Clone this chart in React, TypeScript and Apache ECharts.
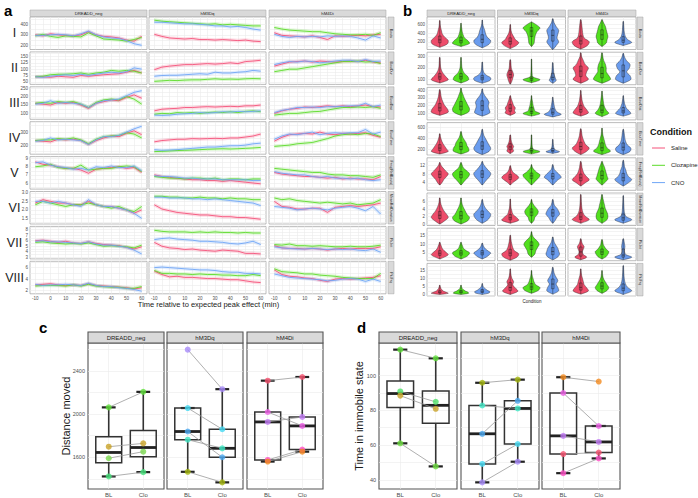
import React, { useEffect, useRef } from 'react';
import * as echarts from 'echarts';

const FONT = '"Liberation Sans", Arial, Helvetica, sans-serif';

// ---------------- shared categories ----------------
const GROUPS = ['DREADD_neg', 'hM3Dq', 'hM4Di'];
const CONDITIONS = ['Saline', 'Clozapine', 'CNO'];
const LINE_COLORS = ['#F5527A', '#5CDB2A', '#6FA6F7'];
const VIOLIN_FILLS = ['#EE4D6B', '#52E01F', '#6A9CEE'];
const ROMAN = ['I', 'II', 'III', 'IV', 'V', 'VI', 'VII', 'VIII'];
const MEASURES = ['Bouts', 'BoutDur', 'BoutDist', 'BoutTime', 'Freq(RefBouts)', 'MeanRefDuration', 'Pk.Int', 'Pk.Frq'];

// ---------------- panel a: time courses ----------------
const TIME = [-10, -5, 0, 5, 10, 15, 20, 25, 30, 35, 40, 45, 50, 55, 60];
const TIME_TICKS = [-10, 0, 10, 20, 30, 40, 50, 60];
// each row: [group][condition: Saline, Clozapine, CNO]
const TS_I = [
  [[300, 290, 310, 300, 295, 290, 300, 330, 300, 285, 280, 270, 250, 240, 285],
   [290, 305, 285, 275, 290, 285, 280, 320, 290, 260, 255, 250, 240, 255, 275],
   [295, 295, 300, 305, 300, 290, 310, 335, 300, 280, 270, 265, 245, 215, 200]],
  [[305, 285, 270, 265, 260, 265, 255, 255, 250, 255, 250, 245, 250, 240, 235],
   [440, 430, 425, 420, 415, 410, 405, 400, 405, 395, 400, 395, 390, 385, 385],
   [420, 420, 415, 410, 405, 405, 400, 395, 385, 385, 375, 380, 370, 355, 345]],
  [[320, 295, 290, 285, 280, 290, 275, 255, 290, 285, 290, 295, 290, 300, 305],
   [370, 355, 345, 340, 335, 330, 330, 320, 310, 305, 300, 300, 305, 295, 320],
   [305, 285, 275, 285, 280, 285, 280, 290, 285, 290, 285, 270, 250, 290, 270]],
];
const TS_II = [
  [[70, 70, 68, 72, 70, 68, 75, 72, 75, 78, 80, 82, 88, 95, 85],
   [70, 72, 78, 80, 80, 82, 85, 80, 85, 88, 95, 92, 95, 92, 85],
   [70, 68, 72, 75, 78, 75, 80, 75, 80, 85, 88, 85, 90, 105, 100]],
  [[98, 108, 112, 115, 118, 118, 120, 122, 120, 122, 125, 122, 130, 132, 135],
   [52, 54, 56, 55, 57, 58, 58, 60, 62, 60, 61, 60, 62, 63, 62],
   [72, 75, 76, 76, 78, 80, 82, 80, 88, 85, 85, 88, 90, 95, 92]],
  [[112, 120, 128, 130, 132, 128, 132, 130, 128, 130, 132, 130, 135, 128, 125],
   [90, 95, 100, 100, 105, 110, 115, 120, 125, 130, 130, 132, 128, 130, 122],
   [118, 125, 130, 128, 132, 130, 125, 128, 132, 135, 135, 130, 138, 130, 132]],
];
const TS_III = [
  [[160, 155, 150, 165, 160, 165, 150, 130, 160, 170, 180, 175, 195, 210, 190],
   [160, 165, 160, 170, 165, 170, 155, 135, 165, 180, 185, 180, 200, 185, 155],
   [155, 160, 175, 160, 165, 160, 155, 135, 160, 175, 180, 185, 205, 225, 235]],
  [[115, 125, 128, 130, 135, 135, 138, 140, 138, 140, 142, 140, 145, 145, 150],
   [95, 100, 98, 105, 102, 105, 100, 105, 108, 105, 110, 105, 112, 115, 110],
   [90, 88, 90, 95, 98, 100, 105, 102, 105, 110, 108, 112, 110, 112, 115]],
  [[100, 115, 125, 130, 138, 135, 140, 145, 140, 145, 140, 145, 150, 140, 138],
   [90, 95, 100, 100, 105, 110, 112, 120, 128, 135, 135, 138, 135, 140, 130],
   [105, 118, 125, 135, 135, 138, 135, 140, 140, 142, 145, 145, 160, 140, 150]],
];
const TS_IV = [
  [[235, 230, 225, 245, 240, 245, 235, 205, 235, 255, 270, 265, 290, 310, 280],
   [235, 240, 240, 250, 245, 255, 240, 210, 245, 265, 270, 275, 295, 285, 255],
   [230, 235, 255, 240, 245, 240, 235, 205, 240, 265, 265, 275, 300, 325, 345]],
  [[225, 235, 240, 245, 245, 250, 248, 250, 252, 250, 255, 255, 262, 270, 285],
   [150, 152, 155, 158, 160, 162, 165, 168, 170, 172, 170, 172, 175, 178, 182],
   [165, 160, 162, 165, 170, 175, 180, 185, 185, 190, 195, 195, 200, 210, 215]],
  [[230, 260, 280, 285, 290, 285, 300, 285, 280, 290, 285, 290, 295, 275, 260],
   [190, 195, 200, 210, 215, 220, 235, 250, 270, 280, 285, 280, 290, 285, 265],
   [245, 270, 285, 280, 290, 300, 280, 290, 295, 290, 295, 295, 320, 285, 300]],
];
const TS_V = [
  [[8.6, 8.3, 8.2, 8.0, 7.8, 7.8, 7.6, 7.2, 7.7, 7.8, 7.9, 8.0, 7.8, 7.9, 7.3],
   [8.0, 8.1, 8.3, 7.9, 7.8, 7.8, 8.2, 7.6, 7.7, 7.8, 7.8, 8.0, 8.1, 8.0, 7.4],
   [8.5, 8.6, 8.2, 8.0, 7.9, 7.7, 7.8, 7.6, 8.0, 7.9, 8.1, 7.9, 7.9, 8.1, 7.5]],
  [[7.0, 6.8, 6.7, 6.6, 6.5, 6.4, 6.4, 6.3, 6.3, 6.2, 6.3, 6.2, 6.1, 6.0, 5.9],
   [6.8, 6.7, 6.6, 6.6, 6.5, 6.6, 6.6, 6.5, 6.6, 6.4, 6.5, 6.5, 6.4, 6.5, 6.5],
   [6.9, 6.8, 6.8, 6.7, 6.6, 6.6, 6.5, 6.5, 6.5, 6.4, 6.4, 6.4, 6.4, 6.3, 6.3]],
  [[7.3, 7.1, 7.0, 6.9, 6.8, 6.8, 6.7, 6.6, 6.7, 6.5, 6.6, 6.5, 6.5, 6.4, 6.8],
   [7.8, 7.7, 7.6, 7.5, 7.4, 7.3, 7.3, 7.1, 7.0, 7.0, 6.9, 6.9, 6.8, 6.7, 7.0],
   [7.4, 7.2, 7.1, 7.0, 7.0, 6.8, 6.7, 6.8, 6.6, 6.6, 6.5, 6.6, 6.4, 6.3, 6.4]],
];
const TS_VI = [
  [[2.4, 2.6, 2.5, 2.4, 2.4, 2.3, 2.3, 2.5, 2.3, 2.2, 2.2, 2.1, 2.0, 1.8, 2.0],
   [2.3, 2.5, 2.4, 2.3, 2.2, 2.3, 2.3, 2.4, 2.3, 2.2, 2.1, 2.2, 2.0, 1.9, 2.2],
   [2.5, 2.5, 2.4, 2.5, 2.4, 2.3, 2.2, 2.6, 2.3, 2.2, 2.2, 2.1, 2.0, 1.8, 1.5]],
  [[2.3, 2.05, 1.95, 1.85, 1.8, 1.75, 1.7, 1.7, 1.65, 1.6, 1.6, 1.55, 1.55, 1.5, 1.45],
   [2.8, 2.8, 2.75, 2.75, 2.7, 2.7, 2.75, 2.7, 2.7, 2.65, 2.7, 2.65, 2.65, 2.6, 2.6],
   [2.75, 2.75, 2.7, 2.7, 2.7, 2.65, 2.65, 2.6, 2.65, 2.6, 2.55, 2.5, 2.45, 2.4, 2.25]],
  [[2.5, 2.2, 2.15, 2.05, 2.05, 2.1, 2.1, 1.85, 2.15, 2.2, 2.25, 2.2, 2.25, 2.3, 2.4],
   [2.7, 2.6, 2.65, 2.55, 2.5, 2.45, 2.4, 2.45, 2.4, 2.35, 2.4, 2.3, 2.35, 2.4, 2.6],
   [2.2, 2.15, 2.1, 2.0, 2.05, 2.1, 2.05, 2.0, 2.1, 2.15, 2.2, 2.1, 1.95, 2.2, 1.75]],
];
const TS_VII = [
  [[6.0, 6.1, 5.9, 5.7, 5.9, 5.6, 5.5, 5.8, 5.5, 5.3, 5.2, 5.1, 4.8, 4.5, 4.9],
   [5.7, 5.8, 5.6, 5.5, 5.4, 5.5, 5.4, 5.6, 5.3, 5.0, 5.1, 5.0, 4.9, 4.7, 5.2],
   [5.9, 6.0, 5.8, 5.8, 5.7, 5.6, 5.5, 5.8, 5.4, 5.2, 5.2, 5.0, 4.8, 4.3, 3.6]],
  [[5.7, 5.0, 4.7, 4.6, 4.4, 4.5, 4.3, 4.2, 4.1, 4.3, 4.2, 4.1, 3.7, 3.7, 3.6],
   [7.9, 7.7, 7.6, 7.6, 7.6, 7.5, 7.6, 7.5, 7.6, 7.5, 7.5, 7.4, 7.5, 7.4, 7.4],
   [6.2, 6.4, 6.5, 6.3, 6.2, 6.1, 5.9, 5.9, 5.8, 5.7, 5.5, 5.4, 5.6, 5.9, 5.3]],
  [[5.1, 4.7, 4.6, 4.6, 4.5, 4.6, 4.5, 4.3, 4.5, 4.6, 4.5, 4.6, 4.6, 4.6, 4.9],
   [5.3, 5.2, 5.4, 5.1, 5.1, 5.0, 5.1, 5.0, 4.9, 4.9, 5.0, 4.9, 4.9, 5.0, 5.2],
   [4.9, 4.7, 4.6, 4.5, 4.5, 4.6, 4.5, 4.4, 4.5, 4.4, 4.5, 4.3, 4.2, 4.5, 3.9]],
];
const TS_VIII = [
  [[3.0, 3.1, 3.2, 3.0, 2.9, 3.0, 2.9, 3.2, 2.9, 2.8, 2.7, 2.6, 2.5, 2.3, 2.5],
   [2.8, 2.9, 2.9, 2.9, 2.8, 3.0, 2.8, 3.1, 2.8, 2.7, 2.6, 2.6, 2.4, 2.4, 2.7],
   [3.1, 2.9, 3.0, 3.0, 3.1, 3.0, 2.9, 3.3, 2.9, 2.7, 2.7, 2.5, 2.4, 2.2, 1.9]],
  [[5.4, 4.8, 4.4, 4.5, 4.3, 4.3, 4.2, 4.1, 4.1, 4.0, 3.9, 3.9, 3.7, 3.5, 3.4],
   [5.5, 5.0, 5.0, 4.9, 4.9, 4.8, 4.9, 4.8, 4.8, 4.7, 4.7, 4.6, 4.6, 4.8, 4.6],
   [6.0, 6.1, 6.0, 5.9, 5.8, 5.7, 5.6, 5.6, 5.5, 5.3, 5.2, 5.2, 5.0, 5.0, 4.9]],
  [[5.6, 4.8, 4.5, 4.4, 4.2, 4.1, 3.8, 3.6, 4.0, 4.1, 4.0, 4.1, 4.2, 4.3, 4.6],
   [5.8, 5.3, 5.2, 5.1, 4.9, 4.9, 4.7, 4.6, 4.5, 4.3, 4.2, 4.1, 4.1, 4.1, 5.0],
   [4.9, 4.6, 4.3, 4.2, 4.1, 4.0, 3.9, 3.7, 3.8, 4.0, 4.1, 4.0, 3.6, 4.0, 3.6]],
];
const TS_ROWS = [TS_I, TS_II, TS_III, TS_IV, TS_V, TS_VI, TS_VII, TS_VIII];
const A_YMIN = [160, 40, 65, 130, 5.25, 1.17, 2.7, 1.45];
const A_YMAX = [470, 168, 258, 380, 9.25, 3.08, 8.6, 7.1];
const A_YTICKS = [
  [200, 300, 400], [50, 75, 100, 125, 150], [100, 150, 200, 250], [200, 300],
  [6, 7, 8, 9], [1.5, 2.0, 2.5, 3.0], [3, 4, 5, 6, 7, 8], [2, 4, 6],
];

// ---------------- panel b: violins ----------------
// each violin: [low, high, relative widths at 7 inner levels, bottom to top]
const VIO_1 = [
  [[80, 680, 9, 10, 6, 3, 2, 1, 0.5], [100, 620, 10, 8, 4, 2.5, 1.5, 1, 0.5], [70, 690, 8, 10, 6, 4, 3, 1.5, 0.5]],
  [[50, 590, 7, 10, 6, 4, 2, 1, 0.5], [100, 650, 3, 3.5, 4, 5, 7, 10, 6], [30, 720, 4, 7, 5, 6, 7, 4, 1.5]],
  [[40, 700, 8, 10, 4, 2.5, 2, 1.5, 1], [100, 700, 5, 6, 7, 6, 5, 4, 2], [120, 660, 10, 5, 2.5, 1.5, 1, 0.8, 0.5]],
];
const VIO_2 = [
  [[70, 290, 10, 7, 4, 2, 1, 0.7, 0.5], [70, 290, 9, 8, 4, 2, 1, 0.7, 0.5], [68, 250, 9, 10, 5, 2, 1, 0.7, 0.5]],
  [[60, 270, 2, 3, 4, 3, 1.5, 1, 0.8], [72, 275, 10, 1.5, 0.8, 0.6, 0.5, 0.4, 0.3], [68, 245, 4, 3, 2, 1.2, 1, 0.7, 0.5]],
  [[68, 330, 9, 6, 7, 9, 5, 3, 1], [68, 330, 10, 8, 5, 5, 4, 2, 1], [68, 325, 9, 8, 4, 7, 8, 4, 1.5]],
];
const VIO_3 = [
  [[70, 410, 10, 9, 6, 4, 2.5, 1.5, 1], [70, 430, 9, 10, 8, 6, 4, 2.5, 1], [60, 420, 9, 8, 7, 8, 6, 3, 1]],
  [[70, 330, 6, 5, 6, 4, 3, 2, 1], [60, 330, 10, 4, 3, 2, 1.5, 1, 0.5], [50, 310, 10, 5, 3, 2, 1.5, 1, 0.5]],
  [[60, 400, 9, 7, 4, 2.5, 1.5, 1, 0.5], [55, 390, 8, 5, 3, 2, 1.5, 1, 0.5], [60, 330, 9, 7, 4, 2.5, 1.5, 1, 0.5]],
];
const VIO_4 = [
  [[120, 480, 10, 8, 6, 4, 2.5, 1.5, 0.7], [120, 520, 9, 9, 7, 6, 4, 2, 1], [110, 560, 8, 10, 8, 6, 4, 2, 1]],
  [[130, 460, 4, 3, 4, 2.5, 1.5, 1, 0.7], [120, 460, 10, 2, 1, 0.7, 0.6, 0.5, 0.4], [130, 380, 8, 3, 1.5, 1, 0.7, 0.5, 0.4]],
  [[110, 570, 7, 10, 6, 4, 2.5, 1.5, 1], [110, 580, 10, 6, 4, 3, 2, 1, 0.5], [110, 560, 8, 9, 5, 3, 2, 1.5, 1]],
];
const VIO_5 = [
  [[3, 13.5, 3, 5, 8, 10, 7, 4, 1.5], [3, 13.5, 3, 6, 9, 10, 7, 3, 1.5], [3, 14, 3, 6, 9, 10, 7, 4, 1.5]],
  [[3, 12, 3, 7, 10, 8, 4, 2, 1], [3, 12.5, 3, 6, 9, 10, 6, 3, 1], [3, 12.5, 3, 6, 10, 8, 5, 2, 1]],
  [[2.5, 14, 5, 10, 7, 4, 2.5, 1.5, 1], [3, 14, 4, 7, 6, 5, 4, 3, 1.5], [2.5, 14.5, 6, 10, 6, 4, 3, 1.5, 1]],
];
const VIO_6 = [
  [[0.1, 6.9, 6, 10, 8, 5, 3, 1.5, 0.7], [0.1, 6.9, 8, 10, 7, 5, 3, 1.5, 0.7], [0.3, 6.5, 6, 9, 10, 7, 4, 2, 1]],
  [[0.3, 6.6, 10, 7, 3, 2, 1, 0.6, 0.4], [0.3, 6.5, 3, 4, 7, 8, 6, 3, 1], [0.3, 6.5, 3, 5, 8, 7, 5, 2, 1]],
  [[0.3, 7.8, 10, 5, 2.5, 1.5, 1, 0.7, 0.5], [0.3, 7.8, 6, 7, 6, 4, 3, 2, 1], [0.3, 7.5, 10, 3, 1.5, 1, 0.8, 0.6, 0.4]],
];
const VIO_7 = [
  [[1.5, 11, 6, 10, 8, 5, 3, 2, 1], [1.5, 11, 6, 9, 10, 6, 3, 2, 1], [1.5, 10.5, 5, 8, 10, 7, 4, 2, 1]],
  [[0.8, 15, 8, 10, 5, 3, 2, 1.2, 0.7], [2.5, 17, 4, 5, 7, 9, 7, 3, 1], [1, 14, 6, 8, 7, 6, 4, 2, 1]],
  [[1, 13, 7, 3, 2, 3, 4, 2, 1], [1.5, 12.5, 5, 7, 8, 5, 3, 1.5, 1], [1, 13, 10, 3, 1.5, 1.5, 2, 1.5, 1]],
];
const VIO_8 = [
  [[0.3, 6, 10, 7, 4, 2.5, 1.5, 1, 0.5], [0.3, 6, 9, 8, 5, 3, 1.5, 1, 0.5], [0.3, 7, 8, 9, 6, 4, 2, 1, 0.5]],
  [[0.3, 16, 9, 6, 3, 4, 2, 1, 0.5], [1, 15, 8, 10, 5, 3, 2, 1, 0.5], [0.5, 17, 7, 6, 4, 6, 4, 2, 1]],
  [[0.5, 16, 9, 7, 4, 3, 2, 1, 0.5], [1, 15, 6, 8, 6, 4, 2, 1, 0.5], [0.3, 18, 10, 5, 2.5, 1.5, 1, 0.7, 0.5]],
];
const VIO_ROWS = [VIO_1, VIO_2, VIO_3, VIO_4, VIO_5, VIO_6, VIO_7, VIO_8];
const B_YMIN = [30, 55, 10, 100, 0.5, -0.3, 0.5, -0.6];
const B_YMAX = [760, 335, 440, 680, 15.7, 8.2, 19, 19.4];
const B_YTICKS = [
  [200, 400, 600], [100, 200, 300], [100, 200, 300, 400], [200, 400, 600],
  [4, 8, 12], [0, 2, 4, 6], [5, 10, 15], [0, 5, 10, 15],
];

// ---------------- panel c: distance moved (BL vs Clo) ----------------
const PAIR_LABELS = ['BL', 'Clo'];
const C_BL = [
  [2063, 1698, 1591, 1422],
  [2599, 2057, 1839, 1763, 1465],
  [2311, 2020, 1928, 1575, 1560],
];
const C_CLO = [
  [2207, 1729, 1652, 1462],
  [2232, 1860, 1600, 1683, 1367],
  [2345, 1891, 1974, 1671, 1652],
];
const C_COLORS = [
  ['#5FE03A', '#C9A227', '#7BD84E', '#45E27A'],
  ['#A78BFA', '#45DAF2', '#4AA8F0', '#3EE6C4', '#A3B50C'],
  ['#F5506E', '#EE5FE6', '#C27BF5', '#FF4FC6', '#F28A1E'],
];
const C_TICKS = [1600, 2000, 2400];

// ---------------- panel d: time in immobile state ----------------
const D_BL = [
  [115.0, 90.9, 88.5, 61.0],
  [95.9, 82.8, 66.5, 49.1, 38.5],
  [99.1, 90.0, 65.3, 54.8, 43.8],
];
const D_CLO = [
  [110.0, 84.9, 80.9, 47.7],
  [97.7, 81.1, 85.5, 60.6, 50.4],
  [96.6, 71.0, 61.8, 55.7, 52.3],
];
const D_COLORS = [
  ['#5FE03A', '#4FE068', '#C9A227', '#6BDC3E'],
  ['#A3B50C', '#3EE6C4', '#4AA8F0', '#45DAF2', '#A78BFA'],
  ['#F28A1E', '#EE5FE6', '#C27BF5', '#F5506E', '#FF4FC6'],
];
const D_TICKS = [40, 60, 80, 100];

// ---------------- helpers ----------------
function gridLines(major: number[], min: number, max: number): number[] {
  const step = (major[1] - major[0]) / 2;
  let v = major[0];
  while (v - step >= min - 1e-9) v -= step;
  const out: number[] = [];
  for (; v <= max + 1e-9; v += step) out.push(Math.round(v * 1e6) / 1e6);
  return out;
}

function quantile7(arr: number[], p: number): number {
  const s = [...arr].sort((a, b) => a - b);
  const h = (s.length - 1) * p;
  const lo = Math.floor(h);
  const hi = Math.min(lo + 1, s.length - 1);
  return s[lo] + (h - lo) * (s[hi] - s[lo]);
}

function boxStats(arr: number[]) {
  const q1 = quantile7(arr, 0.25);
  const med = quantile7(arr, 0.5);
  const q3 = quantile7(arr, 0.75);
  const iqr = q3 - q1;
  const inside = arr.filter((v) => v >= q1 - 1.5 * iqr && v <= q3 + 1.5 * iqr);
  return [Math.min(...inside), q1, med, q3, Math.max(...inside)];
}

function densityQuantile(ws: number[], lo: number, hi: number, p: number): number {
  const n = ws.length - 1;
  const h = (hi - lo) / n;
  const areas: number[] = [];
  let total = 0;
  for (let k = 0; k < n; k++) {
    const a = ((ws[k] + ws[k + 1]) / 2) * h;
    areas.push(a);
    total += a;
  }
  let target = total * p;
  for (let k = 0; k < n; k++) {
    if (target <= areas[k]) return lo + h * k + (h * target) / areas[k];
    target -= areas[k];
  }
  return hi;
}

function buildOption() {
  const grid: any[] = [];
  const xAxis: any[] = [];
  const yAxis: any[] = [];
  const series: any[] = [];
  const graphic: any[] = [];

  const axisText = { fontFamily: FONT, color: '#4d4d4d' };
  const split = { show: true, lineStyle: { color: '#ebebeb', width: 0.6 } };
  const plain = (v: number) => String(v);

  const addGrid = (g: any, xa: any, ya: any) => {
    const idx = grid.length;
    grid.push({ ...g, show: true, containLabel: false, backgroundColor: '#fff' });
    xAxis.push({ ...xa, gridIndex: idx });
    yAxis.push({ ...ya, gridIndex: idx });
    return idx;
  };

  const stripRect = (x: number, y: number, w: number, h: number, stroke: string, lw: number) => ({
    type: 'rect', shape: { x, y, width: w, height: h }, silent: true,
    style: { fill: '#d9d9d9', stroke, lineWidth: lw }, z: 10,
  });
  const txt = (x: number, y: number, text: string, size: number, extra: any = {}) => ({
    type: 'text', x, y, silent: true, z: 11,
    style: { text, fontSize: size, fontFamily: FONT, fill: '#1a1a1a', align: 'center', verticalAlign: 'middle', ...(extra.style || {}) },
    ...(extra.rot !== undefined ? { rotation: extra.rot } : {}),
  });

  // ======== panel a ========
  const aColX = [30, 149, 269];
  const aColW = 117;
  const aRowY = (r: number) => 17 + r * 34.9;
  const aRowH = 32.5;
  const fmtA = (r: number) => (v: number) => (r === 5 ? v.toFixed(1) : String(v));
  for (let r = 0; r < 8; r++) {
    for (let c = 0; c < 3; c++) {
      const idx = addGrid(
        { left: aColX[c], top: aRowY(r), width: aColW, height: aRowH, borderColor: '#a0a0a0', borderWidth: 0.7 },
        {
          type: 'value', min: -13.5, max: 63.5, axisLine: { show: false },
          axisTick: { show: false, customValues: gridLines(TIME_TICKS, -13.5, 63.5) },
          axisLabel: { show: r === 7, customValues: TIME_TICKS, fontSize: 4.5, margin: 2, formatter: plain, ...axisText },
          splitLine: split,
        },
        {
          type: 'value', min: A_YMIN[r], max: A_YMAX[r], axisLine: { show: false },
          axisTick: { show: false, customValues: gridLines(A_YTICKS[r], A_YMIN[r], A_YMAX[r]) },
          axisLabel: { show: c === 0, customValues: A_YTICKS[r], fontSize: 4.5, margin: 2, formatter: fmtA(r), ...axisText },
          splitLine: split,
        },
      );
      for (let k = 0; k < 3; k++) {
        const vals = TS_ROWS[r][c][k];
        const data = TIME.map((t, i) => [t, vals[i]]);
        series.push({
          type: 'line', xAxisIndex: idx, yAxisIndex: idx, data, showSymbol: false, silent: true, z: 2,
          lineStyle: { color: LINE_COLORS[k], width: 3.6, opacity: 0.2 },
        });
        series.push({
          type: 'line', xAxisIndex: idx, yAxisIndex: idx, data, showSymbol: false, silent: true, z: 3,
          lineStyle: { color: LINE_COLORS[k], width: 0.9 },
        });
      }
    }
    graphic.push(stripRect(388, aRowY(r), 6, aRowH, '#a0a0a0', 0.5));
    graphic.push(txt(391, aRowY(r) + aRowH / 2, MEASURES[r], 3.6, { rot: -Math.PI / 2 }));
    graphic.push(txt(14.5, aRowY(r) + aRowH / 2, ROMAN[r], 12.5, { style: { fill: '#222' } }));
  }
  for (let c = 0; c < 3; c++) {
    graphic.push(stripRect(aColX[c], 10, aColW, 6.5, '#a0a0a0', 0.5));
    graphic.push(txt(aColX[c] + aColW / 2, 13.3, GROUPS[c], 4.3));
  }
  graphic.push(txt(208.5, 304.5, 'Time relative to expected peak effect (min)', 7.5));
  graphic.push(txt(4, 3, 'a', 15, { style: { align: 'left', verticalAlign: 'top', fontWeight: 'bold', fill: '#000' } }));

  // ======== panel b ========
  const bColX = [427, 497.5, 568];
  const bColW = 68;
  const bRowY = (r: number) => 17 + r * 35.2;
  const bRowH = 32.5;
  for (let r = 0; r < 8; r++) {
    for (let c = 0; c < 3; c++) {
      const idx = addGrid(
        { left: bColX[c], top: bRowY(r), width: bColW, height: bRowH, borderColor: '#a0a0a0', borderWidth: 0.7 },
        {
          type: 'value', min: 0.4, max: 3.6, axisLine: { show: false },
          axisTick: { show: false, customValues: [1, 2, 3] },
          axisLabel: { show: false, customValues: [1, 2, 3] },
          splitLine: split,
        },
        {
          type: 'value', min: B_YMIN[r], max: B_YMAX[r], axisLine: { show: false },
          axisTick: { show: false, customValues: gridLines(B_YTICKS[r], B_YMIN[r], B_YMAX[r]) },
          axisLabel: { show: c === 0, customValues: B_YTICKS[r], fontSize: 4.5, margin: 2, formatter: plain, ...axisText },
          splitLine: split,
        },
      );
      const data = VIO_ROWS[r][c].map((v, k) => [k + 1, ...v]);
      series.push({
        type: 'custom', xAxisIndex: idx, yAxisIndex: idx, data, silent: true, z: 3,
        renderItem: (params: any, api: any) => {
          const x = api.value(0);
          const lo = api.value(1);
          const hi = api.value(2);
          const ws = [0.3];
          for (let k = 0; k < 7; k++) ws.push(api.value(3 + k));
          ws.push(0.3);
          const unit = api.size([1, 0])[0];
          const maxHalf = unit * 0.4;
          const right: number[][] = [];
          const left: number[][] = [];
          for (let k = 0; k < ws.length; k++) {
            const y = lo + (k / (ws.length - 1)) * (hi - lo);
            const p = api.coord([x, y]);
            const hw = (ws[k] / 10) * maxHalf;
            right.push([p[0] + hw, p[1]]);
            left.push([p[0] - hw, p[1]]);
          }
          const pts = right.concat(left.reverse());
          const q1 = densityQuantile(ws, lo, hi, 0.25);
          const med = densityQuantile(ws, lo, hi, 0.5);
          const q3 = densityQuantile(ws, lo, hi, 0.75);
          const pLo = api.coord([x, lo]);
          const pHi = api.coord([x, hi]);
          const p1 = api.coord([x, q1]);
          const p2 = api.coord([x, med]);
          const p3 = api.coord([x, q3]);
          return {
            type: 'group',
            children: [
              { type: 'polygon', shape: { points: pts, smooth: 0.3 }, style: { fill: VIOLIN_FILLS[x - 1], stroke: '#222', lineWidth: 0.4 } },
              { type: 'line', shape: { x1: pLo[0], y1: pLo[1], x2: pHi[0], y2: pHi[1] }, style: { stroke: '#111', lineWidth: 0.4 } },
              { type: 'rect', shape: { x: p3[0] - 1.3, y: p3[1], width: 2.6, height: p1[1] - p3[1] }, style: { fill: 'none', stroke: '#111', lineWidth: 0.4 } },
              { type: 'line', shape: { x1: p2[0] - 1.3, y1: p2[1], x2: p2[0] + 1.3, y2: p2[1] }, style: { stroke: '#111', lineWidth: 0.5 } },
            ],
          };
        },
      });
    }
    graphic.push(stripRect(637, bRowY(r), 6, bRowH, '#a0a0a0', 0.5));
    graphic.push(txt(640, bRowY(r) + bRowH / 2, MEASURES[r], 3.6, { rot: -Math.PI / 2 }));
  }
  for (let c = 0; c < 3; c++) {
    graphic.push(stripRect(bColX[c], 10, bColW, 6.5, '#a0a0a0', 0.5));
    graphic.push(txt(bColX[c] + bColW / 2, 13.3, GROUPS[c], 4.3));
  }
  graphic.push(txt(532, 301, 'Condition', 4.5));
  graphic.push(txt(403, 3, 'b', 15, { style: { align: 'left', verticalAlign: 'top', fontWeight: 'bold', fill: '#000' } }));

  // legend
  graphic.push(txt(650, 132, 'Condition', 9, { style: { align: 'left', fontWeight: 'bold', fill: '#111' } }));
  CONDITIONS.forEach((name, k) => {
    const y = 148 + k * 17.3;
    graphic.push({ type: 'line', silent: true, z: 11, shape: { x1: 652, y1: y, x2: 665, y2: y }, style: { stroke: LINE_COLORS[k], lineWidth: 1 } });
    graphic.push(txt(671, y, name, 6, { style: { align: 'left', fill: '#222' } }));
  });

  // ======== panels c & d ========
  const pairPanel = (
    colX: number[], colW: number, bl: number[][], clo: number[][], colors: string[][], ticks: number[], letterX: number, letter: string, title: string, titleX: number,
  ) => {
    const all = [...bl.flat(), ...clo.flat()];
    const dmin = Math.min(...all);
    const dmax = Math.max(...all);
    const pad = (dmax - dmin) * 0.05;
    const ymin = dmin - pad;
    const ymax = dmax + pad;
    for (let c = 0; c < 3; c++) {
      const idx = addGrid(
        { left: colX[c], top: 343, width: colW, height: 148, borderColor: '#555', borderWidth: 1.1 },
        {
          type: 'value', min: 0.4, max: 2.6, axisLine: { show: false },
          axisTick: { show: false, customValues: [1, 2] },
          axisLabel: { show: true, customValues: [1, 2], fontSize: 6, margin: 3, formatter: (v: number) => PAIR_LABELS[Math.round(v) - 1], ...axisText },
          splitLine: split,
        },
        {
          type: 'value', min: ymin, max: ymax, axisLine: { show: false },
          axisTick: { show: false, customValues: gridLines(ticks, ymin, ymax) },
          axisLabel: { show: c === 0, customValues: ticks, fontSize: 5.5, margin: 3, formatter: plain, ...axisText },
          splitLine: split,
        },
      );
      const boxes = [[1, ...boxStats(bl[c])], [2, ...boxStats(clo[c])]];
      series.push({
        type: 'custom', xAxisIndex: idx, yAxisIndex: idx, data: boxes, silent: true, z: 2,
        renderItem: (params: any, api: any) => {
          const x = api.value(0);
          const lw = api.value(1), q1 = api.value(2), med = api.value(3), q3 = api.value(4), hw = api.value(5);
          const co = (xx: number, yy: number) => api.coord([xx, yy]);
          const bTL = co(x - 0.375, q3);
          const bBR = co(x + 0.375, q1);
          const ln = (a: number[], b: number[], w: number, col: string) => ({
            type: 'line', shape: { x1: a[0], y1: a[1], x2: b[0], y2: b[1] }, style: { stroke: col, lineWidth: w },
          });
          return {
            type: 'group',
            children: [
              ln(co(x, lw), co(x, q1), 1.6, '#333'),
              ln(co(x, q3), co(x, hw), 1.6, '#333'),
              ln(co(x - 0.2, lw), co(x + 0.2, lw), 2.2, '#222'),
              ln(co(x - 0.2, hw), co(x + 0.2, hw), 2.2, '#222'),
              { type: 'rect', shape: { x: bTL[0], y: bTL[1], width: bBR[0] - bTL[0], height: bBR[1] - bTL[1] }, style: { fill: 'none', stroke: '#333', lineWidth: 1.5 } },
              ln(co(x - 0.375, med), co(x + 0.375, med), 2.8, '#222'),
            ],
          };
        },
      });
      bl[c].forEach((v, i) => {
        series.push({
          type: 'line', xAxisIndex: idx, yAxisIndex: idx, data: [[1, v], [2, clo[c][i]]], showSymbol: false, silent: true, z: 3,
          lineStyle: { color: '#9a9a9a', width: 0.8 },
        });
      });
      const pts: any[] = [];
      bl[c].forEach((v, i) => {
        pts.push({ value: [1, v], itemStyle: { color: colors[c][i] } });
        pts.push({ value: [2, clo[c][i]], itemStyle: { color: colors[c][i] } });
      });
      series.push({ type: 'scatter', xAxisIndex: idx, yAxisIndex: idx, data: pts, symbolSize: 6, silent: true, z: 4 });
      graphic.push(stripRect(colX[c], 332, colW, 11, '#555', 1.1));
      graphic.push(txt(colX[c] + colW / 2, 337.5, GROUPS[c], 6));
    }
    graphic.push(txt(titleX, 416, title, 11, { rot: Math.PI / 2 }));
    graphic.push(txt(letterX, 320, letter, 15, { style: { align: 'left', verticalAlign: 'top', fontWeight: 'bold', fill: '#000' } }));
  };
  pairPanel([88, 167, 247], 76, C_BL, C_CLO, C_COLORS, C_TICKS, 39, 'c', 'Distance moved', 66);
  pairPanel([379, 461, 542], 78, D_BL, D_CLO, D_COLORS, D_TICKS, 357, 'd', 'Time in immobile state', 358.5);

  return { animation: false, backgroundColor: '#fff', grid, xAxis, yAxis, series, graphic };
}

export default function App() {
  const ref = useRef<HTMLDivElement>(null);
  useEffect(() => {
    const chart = echarts.init(ref.current!, null, { renderer: 'svg' });
    chart.setOption(buildOption() as any);
    return () => chart.dispose();
  }, []);
  return <div ref={ref} style={{ position: 'fixed', left: 0, top: 0, width: 698, height: 498, background: '#fff' }} />;
}
